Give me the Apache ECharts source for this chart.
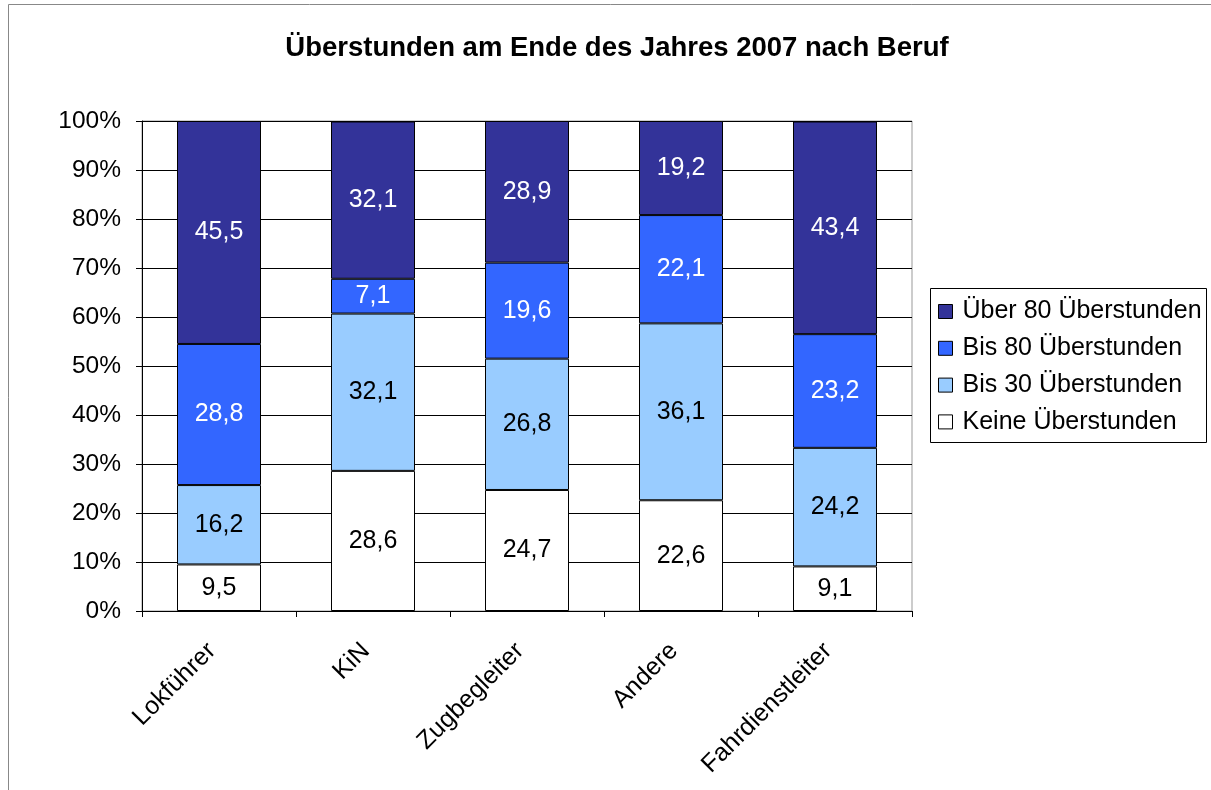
<!DOCTYPE html>
<html>
<head>
<meta charset="utf-8">
<script src="https://cdn.jsdelivr.net/npm/echarts@6/dist/echarts.min.js"></script>
<style>
html, body { margin: 0; padding: 0; background: #fff; }
#pic1 { width: 1211px; height: 790px; }
</style>
</head>
<body>
<div id="pic1"></div>
<script>
// Kategorien und Werte (in %)
var berufe = ['Lokführer', 'KiN', 'Zugbegleiter', 'Andere', 'Fahrdienstleiter'];
var keine = [9.5, 28.6, 24.7, 22.6, 9.1];
var bis30 = [16.2, 32.1, 26.8, 36.1, 24.2];
var bis80 = [28.8, 7.1, 19.6, 22.1, 23.2];
var ueber80 = [45.5, 32.1, 28.9, 19.2, 43.4];
var yTicks = [0, 10, 20, 30, 40, 50, 60, 70, 80, 90, 100];

var schrift = 'Liberation Sans, Arial, sans-serif';

function reihe(name, werte, farbe, textfarbe) {
    return {
        name: name,
        type: 'bar',
        stack: 'gesamt',
        barWidth: 84,
        data: werte,
        itemStyle: { color: farbe, borderColor: '#000', borderWidth: 1 },
        label: {
            show: true,
            position: 'inside',
            color: textfarbe,
            fontSize: 25,
            fontFamily: schrift,
            formatter: function (p) { return String(p.value).replace('.', ','); }
        }
    };
}

var myChart = echarts.init(document.getElementById('pic1'));

var option = {
    animation: false,
    title: {
        text: 'Überstunden am Ende des Jahres 2007 nach Beruf',
        left: 612,
        textAlign: 'center',
        top: 29,
        textStyle: { fontSize: 27.5, fontWeight: 'bold', fontFamily: schrift, color: '#000' }
    },
    graphic: [{
        type: 'rect',
        shape: { x: 8.5, y: 4.5, width: 1210, height: 800 },
        style: { fill: 'none', stroke: '#888', lineWidth: 1 },
        silent: true
    }, {
        type: 'rect',
        shape: { x: 930.5, y: 288.5, width: 276, height: 154 },
        style: { fill: '#fff', stroke: '#000', lineWidth: 1 },
        silent: true,
        z: 0
    }],
    legend: {
        left: 933,
        top: 294,
        orient: 'vertical',
        itemGap: 11.8,
        itemWidth: 14,
        itemHeight: 14,
        icon: 'rect',
        data: ['Über 80 Überstunden', 'Bis 80 Überstunden', 'Bis 30 Überstunden', 'Keine Überstunden'],
        textStyle: { fontSize: 25, fontFamily: schrift, color: '#000', padding: [0, 0, 0, 5] },
        itemStyle: { borderColor: '#000', borderWidth: 1 },
        z: 5
    },
    grid: {
        left: 142,
        right: 299,
        top: 121,
        bottom: 179,
        show: true,
        borderColor: '#999',
        borderWidth: 1,
        backgroundColor: '#fff'
    },
    xAxis: {
        type: 'category',
        data: berufe,
        axisLine: { lineStyle: { color: '#000' } },
        axisTick: { show: true, length: 6, lineStyle: { color: '#000' } },
        axisLabel: {
            rotate: 45,
            fontSize: 25,
            fontFamily: schrift,
            color: '#000',
            margin: 29,
            padding: [0, 10, 0, 0]
        }
    },
    yAxis: {
        type: 'value',
        min: yTicks[0],
        max: yTicks[yTicks.length - 1],
        interval: 10,
        axisLine: { show: true, lineStyle: { color: '#000' } },
        axisTick: { show: true, length: 6, lineStyle: { color: '#000' } },
        splitLine: { lineStyle: { color: '#000', width: 1 } },
        axisLabel: {
            fontSize: 24.5,
            fontFamily: schrift,
            color: '#000',
            margin: 21,
            formatter: '{value}%'
        }
    },
    series: [
        reihe('Keine Überstunden', keine, '#ffffff', '#000'),
        reihe('Bis 30 Überstunden', bis30, '#99ccff', '#000'),
        reihe('Bis 80 Überstunden', bis80, '#3366ff', '#fff'),
        reihe('Über 80 Überstunden', ueber80, '#333399', '#fff')
    ]
};

myChart.setOption(option);
</script>
</body>
</html>
